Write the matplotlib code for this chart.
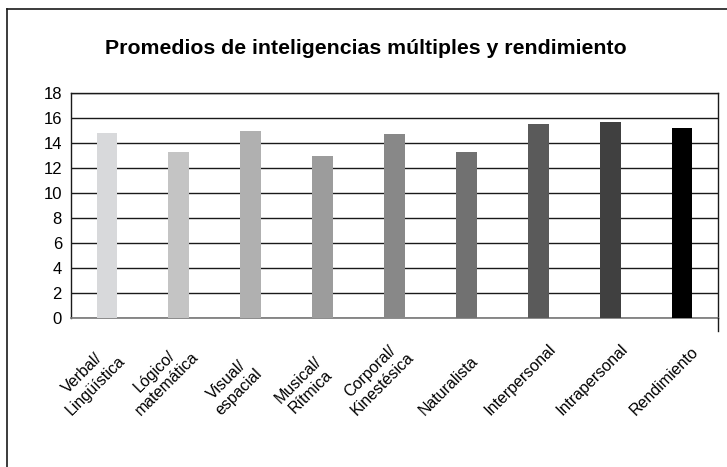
import matplotlib
matplotlib.use("Agg")
import matplotlib.pyplot as plt
from matplotlib.lines import Line2D
import matplotlib.transforms as mtransforms

plt.rcParams['font.family'] = ['Liberation Sans', 'DejaVu Sans']

# data
categorias = ['Verbal/\nLingüística', 'Lógico/\nmatemática', 'Visual/\nespacial',
              'Musical/\nRítmica', 'Corporal/\nKinestésica', 'Naturalista',
              'Interpersonal', 'Intrapersonal', 'Rendimiento']
promedios = [14.8, 13.3, 14.95, 12.95, 14.7, 13.3, 15.5, 15.7, 15.2]
colores = ['#d8d9db', '#c4c4c4', '#b0b0b0', '#9c9c9c', '#888888',
           '#717171', '#5a5a5a', '#404040', '#000000']
ticks_y = [0, 2, 4, 6, 8, 10, 12, 14, 16, 18]

fig = plt.figure(figsize=(7.27, 4.67), dpi=100)
ax = fig.add_axes([71 / 727, 1 - 318 / 467, 647 / 727, 225 / 467])

x = list(range(len(categorias)))
ax.bar(x, promedios, width=0.29, color=colores, zorder=3)

ax.set_xlim(-0.5, len(categorias) - 0.5)
ax.set_ylim(0, 18)
ax.set_yticks(ticks_y)
ax.tick_params(axis='y', length=0, pad=6.5, labelsize=12)
ax.set_xticks([])
ax.yaxis.grid(True, color='#1a1a1a', linewidth=1.0, zorder=0)

for side in ['left', 'right', 'top']:
    ax.spines[side].set_color('#1a1a1a')
    ax.spines[side].set_linewidth(1.0)
ax.spines['bottom'].set_color('#777777')
ax.spines['bottom'].set_linewidth(1.2)

# small extension of the right frame line below the axis
fig.add_artist(Line2D([718 / 727, 718 / 727], [1 - 318 / 467, 1 - 331 / 467],
                      color='#1a1a1a', linewidth=1.0))

# rotated category labels
offset = mtransforms.ScaledTranslation(-18 / 100, 0, fig.dpi_scale_trans)
trans = mtransforms.blended_transform_factory(ax.transData, fig.transFigure) + offset
for xi, lab in zip(x, categorias):
    ax.text(xi, 1 - 418 / 467, lab, transform=trans, rotation=45,
            ha='center', va='bottom', multialignment='center',
            fontsize=11.5, linespacing=1.2, clip_on=False)

fig.text(366 / 727, 1 - 48 / 467, 'Promedios de inteligencias múltiples y rendimiento',
         ha='center', va='center', fontsize=15.3, fontweight='bold')

# outer frame (left and top edges)
fig.add_artist(Line2D([6.5 / 727, 6.5 / 727], [0, 1 - 9 / 467], color='#1a1a1a', linewidth=1.2))
fig.add_artist(Line2D([6.5 / 727, 1], [1 - 9 / 467, 1 - 9 / 467], color='#1a1a1a', linewidth=1.2))

fig.savefig('out.png', dpi=100)
